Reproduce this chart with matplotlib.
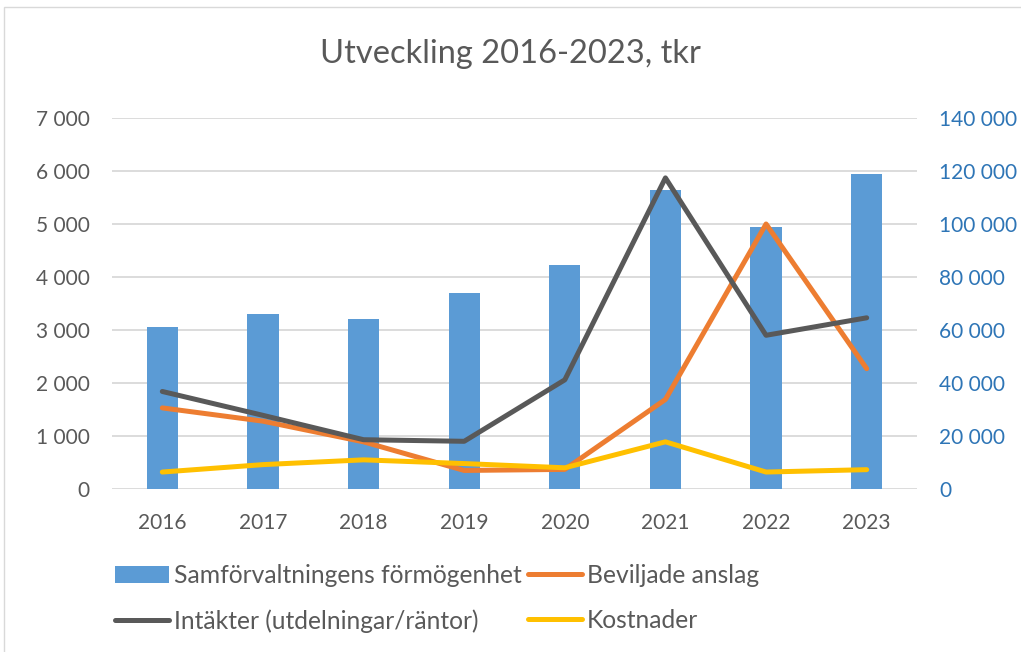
import matplotlib
matplotlib.use("Agg")
import matplotlib.pyplot as plt
from matplotlib.patches import Rectangle

years = ["2016", "2017", "2018", "2019", "2020", "2021", "2022", "2023"]
formogenhet = [61100, 66200, 64300, 74000, 84700, 112700, 98900, 118900]
beviljade = [1530, 1280, 890, 350, 370, 1690, 5000, 2270]
intakter = [1840, 1390, 930, 900, 2060, 5870, 2900, 3230]
kostnader = [320, 460, 550, 480, 400, 890, 320, 365]

left_ticks = [0, 1000, 2000, 3000, 4000, 5000, 6000, 7000]
right_ticks = [0, 20000, 40000, 60000, 80000, 100000, 120000, 140000]

def fmt(v):
    return f"{v:,}".replace(",", " ")

plt.rcParams['font.family'] = ['Lato', 'DejaVu Sans']
TXT = "#595959"
BLUE_TXT = "#2E75B6"

fig = plt.figure(figsize=(10.21, 6.52), dpi=100)
fig.patches.append(Rectangle((4/1021, -0.1), 1.2, (652-7)/652 + 0.1, transform=fig.transFigure,
                             fill=False, edgecolor="#D9D9D9", linewidth=1.0))

ax = fig.add_axes([112/1021, (652-489)/652, (917-112)/1021, (489-118)/652])
ax2 = ax.twinx()
ax.set_zorder(ax2.get_zorder() + 1)
ax.patch.set_visible(False)

x = list(range(len(years)))
ax2.bar(x, formogenhet, width=0.31, color="#5B9BD5", zorder=2, label="Samförvaltningens förmögenhet")
ax2.set_ylim(0, 140000)
ax2.set_yticks(right_ticks)
ax2.set_yticklabels([fmt(v) for v in right_ticks])
ax2.grid(axis='y', color="#D9D9D9", linewidth=1.3, zorder=0)
ax2.set_axisbelow(True)

kw = dict(lw=3.6, solid_capstyle='round', solid_joinstyle='round')
l1, = ax.plot(x, beviljade, color="#ED7D31", label="Beviljade anslag", **kw)
l2, = ax.plot(x, intakter, color="#595959", label="Intäkter (utdelningar/räntor)", **kw)
l3, = ax.plot(x, kostnader, color="#FFC000", label="Kostnader", **kw)
ax.set_ylim(0, 7000)
ax.set_yticks(left_ticks)
ax.set_yticklabels([fmt(v) for v in left_ticks])
ax.set_xlim(-0.5, 7.5)
ax.set_xticks(x)
ax.set_xticklabels(years)

for a in (ax, ax2):
    for s in a.spines.values():
        s.set_visible(False)
ax.tick_params(axis='y', length=0, pad=16, labelsize=15, labelcolor=TXT)
ax.tick_params(axis='x', length=0, pad=17, labelsize=15, labelcolor=TXT)
ax2.tick_params(axis='y', length=0, pad=16, labelsize=15, labelcolor=BLUE_TXT)

fig.text(0.5, (652-54)/652, "Utveckling 2016-2023, tkr", ha='center', va='center',
         fontsize=23.5, color=TXT)

bars_handle = ax2.containers[0]
leg = fig.legend([bars_handle, l2, l1, l3],
                 ["Samförvaltningens förmögenhet", "Intäkter (utdelningar/räntor)",
                  "Beviljade anslag", "Kostnader"],
                 ncol=2, loc='upper left', bbox_to_anchor=(105/1021, (652-554)/652),
                 frameon=False, fontsize=17.7, handlelength=2.2, handletextpad=0.2,
                 columnspacing=0.25, labelspacing=0.9, borderaxespad=0)
for t in leg.get_texts():
    t.set_color(TXT)

fig.savefig("out.png", dpi=100)
